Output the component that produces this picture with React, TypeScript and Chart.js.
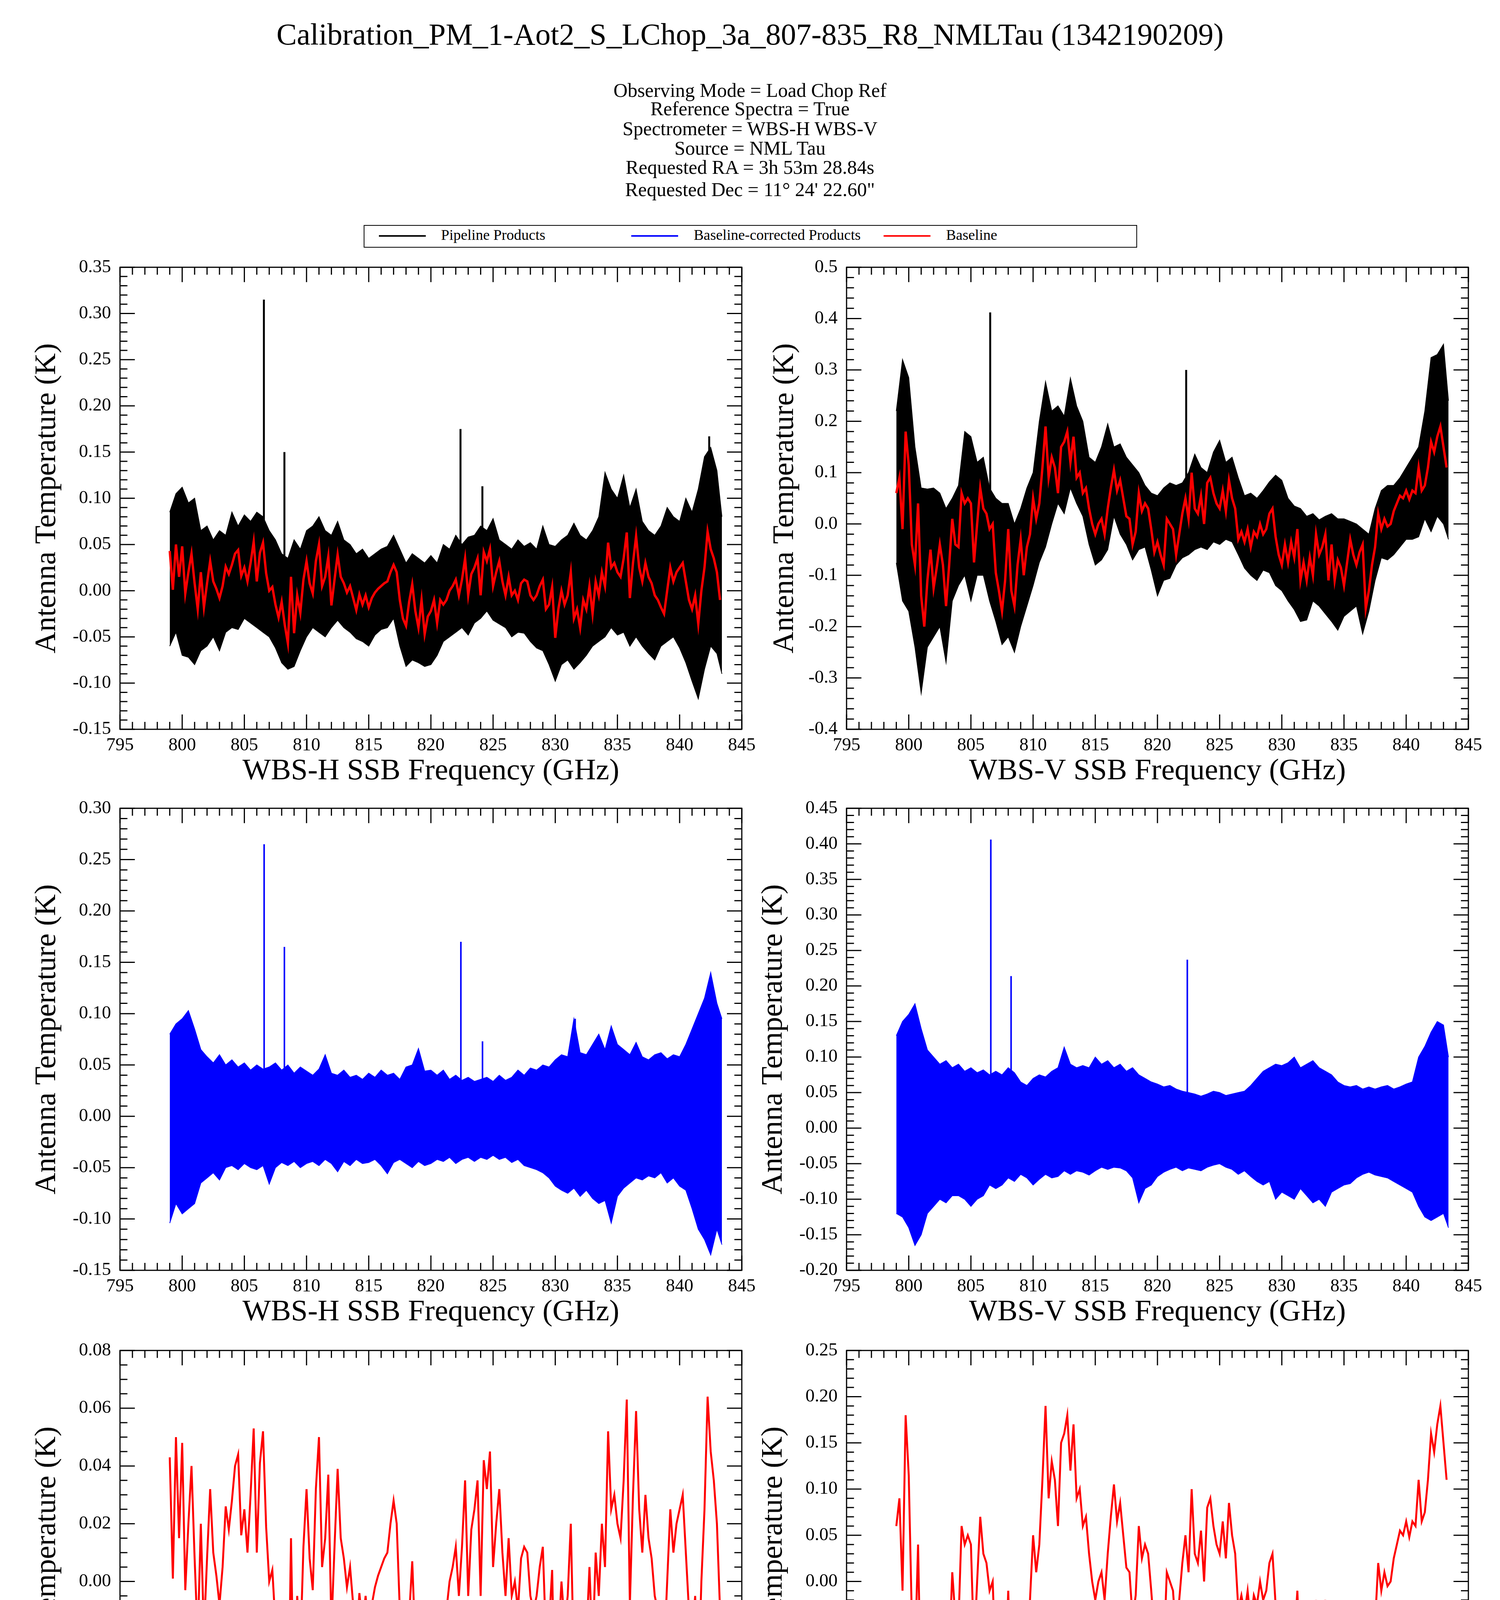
import { useEffect, useRef } from "react"
import { Chart, registerables } from "chart.js"

Chart.register(...registerables)

const SERIF = "'Liberation Serif', 'Times New Roman', Times, serif"
Chart.defaults.font.family = SERIF
Chart.defaults.color = "#000000"

const plotTitle = "Calibration_PM_1-Aot2_S_LChop_3a_807-835_R8_NMLTau (1342190209)"
const headerLines = [
  "Observing Mode = Load Chop Ref",
  "Reference Spectra = True",
  "Spectrometer = WBS-H WBS-V",
  "Source = NML Tau",
  "Requested RA = 3h 53m 28.84s",
  "Requested Dec = 11\u00b0 24' 22.60\"",
]
const legendLabels = ["Pipeline Products", "Baseline-corrected Products", "Baseline"]
const legendColors = ["#000000", "#0000ff", "#ff0000"]

// band envelopes are read every 0.5 GHz from 799.0, closing at the band edge (843.4 GHz)
const bandFreq = [...Array.from({ length: 89 }, (_, i) => 799 + i * 0.5), 843.4]
// baselines are read every 0.25 GHz from 799.0
const baseFreq = Array.from({ length: 178 }, (_, i) => 799 + i * 0.25)

const freqTicks = [795, 800, 805, 810, 815, 820, 825, 830, 835, 840, 845]
const topLeftTicks = [-0.15, -0.1, -0.05, 0, 0.05, 0.1, 0.15, 0.2, 0.25, 0.3, 0.35]
const topRightTicks = [-0.4, -0.3, -0.2, -0.1, 0, 0.1, 0.2, 0.3, 0.4, 0.5]
const midLeftTicks = [-0.15, -0.1, -0.05, 0, 0.05, 0.1, 0.15, 0.2, 0.25, 0.3]
const midRightTicks = [-0.2, -0.15, -0.1, -0.05, 0, 0.05, 0.1, 0.15, 0.2, 0.25, 0.3, 0.35, 0.4, 0.45]
const botLeftTicks = [-0.08, -0.06, -0.04, -0.02, 0, 0.02, 0.04, 0.06, 0.08]
const botRightTicks = [-0.25, -0.2, -0.15, -0.1, -0.05, 0, 0.05, 0.1, 0.15, 0.2, 0.25]

// WBS-H pipeline product, upper / lower edge of the noise band (K)
const hPipeHi = [
  0.085, 0.105, 0.112, 0.095, 0.1, 0.065, 0.07, 0.055, 0.065, 0.06,
  0.085, 0.07, 0.082, 0.075, 0.085, 0.08, 0.065, 0.055, 0.04, 0.035,
  0.055, 0.045, 0.065, 0.07, 0.08, 0.065, 0.06, 0.075, 0.055, 0.05,
  0.04, 0.045, 0.035, 0.04, 0.045, 0.048, 0.06, 0.045, 0.03, 0.04,
  0.035, 0.03, 0.038, 0.03, 0.05, 0.045, 0.06, 0.05, 0.058, 0.06,
  0.07, 0.065, 0.078, 0.055, 0.05, 0.045, 0.055, 0.048, 0.052, 0.045,
  0.07, 0.05, 0.048, 0.055, 0.06, 0.073, 0.06, 0.055, 0.065, 0.08,
  0.128, 0.11, 0.1, 0.125, 0.09, 0.11, 0.075, 0.065, 0.06, 0.07,
  0.09, 0.08, 0.075, 0.1, 0.085, 0.11, 0.145, 0.155, 0.13, 0.08,
]
const hPipeLo = [
  -0.06, -0.045, -0.07, -0.072, -0.08, -0.065, -0.06, -0.05, -0.065, -0.045,
  -0.04, -0.042, -0.03, -0.035, -0.04, -0.045, -0.05, -0.062, -0.078, -0.085,
  -0.082, -0.065, -0.05, -0.04, -0.045, -0.05, -0.04, -0.032, -0.04, -0.045,
  -0.052, -0.055, -0.06, -0.048, -0.042, -0.04, -0.03, -0.06, -0.082, -0.075,
  -0.078, -0.082, -0.08, -0.07, -0.055, -0.05, -0.045, -0.04, -0.048, -0.035,
  -0.03, -0.022, -0.032, -0.036, -0.04, -0.05, -0.045, -0.046, -0.055, -0.062,
  -0.065, -0.08, -0.098, -0.08, -0.075, -0.085, -0.078, -0.07, -0.06, -0.055,
  -0.05, -0.04, -0.048, -0.045, -0.06, -0.05, -0.06, -0.068, -0.075, -0.06,
  -0.055, -0.05, -0.062, -0.078, -0.098, -0.117, -0.085, -0.06, -0.068, -0.09,
]
// WBS-V pipeline product
const vPipeHi = [
  0.22, 0.32, 0.285, 0.15, 0.07, 0.068, 0.07, 0.06, 0.03, 0.05,
  0.075, 0.18, 0.17, 0.12, 0.13, 0.07, 0.05, 0.04, 0.04, 0.0,
  0.03, 0.07, 0.1, 0.2, 0.277, 0.22, 0.23, 0.21, 0.284, 0.23,
  0.2, 0.13, 0.12, 0.15, 0.195, 0.15, 0.156, 0.13, 0.115, 0.1,
  0.075, 0.06, 0.055, 0.07, 0.08, 0.075, 0.08, 0.1, 0.136, 0.11,
  0.1, 0.14, 0.163, 0.12, 0.13, 0.09, 0.055, 0.06, 0.05, 0.065,
  0.082, 0.095, 0.085, 0.05, 0.035, 0.03, 0.015, 0.02, 0.008, 0.015,
  0.02, 0.01, 0.01, 0.005, 0.0, -0.01, -0.02, 0.03, 0.065, 0.075,
  0.075, 0.09, 0.11, 0.13, 0.15, 0.22, 0.324, 0.33, 0.35, 0.24,
]
const vPipeLo = [
  -0.076, -0.15, -0.17, -0.24, -0.33, -0.24, -0.22, -0.2, -0.27, -0.15,
  -0.12, -0.1, -0.15, -0.1, -0.1, -0.15, -0.19, -0.235, -0.22, -0.25,
  -0.2, -0.16, -0.12, -0.075, -0.045, 0.0, 0.04, 0.02, 0.07, 0.04,
  0.015, -0.04, -0.08, -0.07, -0.05, 0.015, -0.02, -0.04, -0.07, -0.05,
  -0.045, -0.09, -0.14, -0.11, -0.106, -0.08, -0.066, -0.06, -0.05, -0.045,
  -0.05, -0.035, -0.04, -0.03, -0.035, -0.06, -0.086, -0.1, -0.11, -0.09,
  -0.095, -0.12, -0.13, -0.15, -0.167, -0.19, -0.187, -0.15, -0.16, -0.175,
  -0.19, -0.207, -0.18, -0.17, -0.16, -0.214, -0.17, -0.11, -0.066, -0.07,
  -0.06, -0.045, -0.03, -0.03, -0.025, 0.01, -0.015, 0.015, 0.0, -0.03,
]
// WBS-H baseline-corrected product
const hCorrHi = [
  0.08, 0.09, 0.095, 0.103, 0.085, 0.065, 0.058, 0.052, 0.06, 0.05,
  0.055, 0.048, 0.052, 0.045, 0.05, 0.046, 0.048, 0.052, 0.045, 0.05,
  0.042, 0.048, 0.044, 0.04, 0.046, 0.06, 0.042, 0.04, 0.045, 0.038,
  0.04, 0.036, 0.042, 0.038, 0.045, 0.04, 0.042, 0.036, 0.048, 0.05,
  0.066, 0.044, 0.045, 0.04, 0.045, 0.036, 0.04, 0.035, 0.038, 0.034,
  0.036, 0.038, 0.034, 0.04, 0.035, 0.038, 0.045, 0.04, 0.047, 0.045,
  0.05, 0.048, 0.055, 0.06, 0.058, 0.095, 0.062, 0.06, 0.07, 0.08,
  0.065, 0.088, 0.07, 0.065, 0.06, 0.072, 0.058, 0.055, 0.06, 0.062,
  0.056, 0.06, 0.058, 0.07, 0.085, 0.1, 0.115, 0.14, 0.11, 0.095,
]
const hCorrLo = [
  -0.104, -0.085, -0.095, -0.09, -0.085, -0.065, -0.06, -0.055, -0.062, -0.05,
  -0.048, -0.052, -0.046, -0.05, -0.052, -0.048, -0.066, -0.05, -0.045, -0.048,
  -0.044, -0.05, -0.046, -0.044, -0.048, -0.042, -0.046, -0.054, -0.044, -0.048,
  -0.042, -0.046, -0.045, -0.042, -0.048, -0.056, -0.045, -0.042, -0.046, -0.05,
  -0.044, -0.048, -0.046, -0.042, -0.044, -0.04, -0.046, -0.042, -0.04, -0.044,
  -0.04, -0.042, -0.038, -0.042, -0.04, -0.045, -0.042, -0.048, -0.05, -0.052,
  -0.055, -0.06, -0.068, -0.072, -0.075, -0.07, -0.078, -0.072, -0.08, -0.085,
  -0.082, -0.104, -0.078, -0.07, -0.065, -0.06, -0.062, -0.058, -0.06, -0.055,
  -0.065, -0.06, -0.068, -0.072, -0.09, -0.11, -0.12, -0.135, -0.11, -0.125,
]
// WBS-V baseline-corrected product
const vCorrHi = [
  0.13, 0.15, 0.16, 0.175, 0.14, 0.11, 0.1, 0.09, 0.095, 0.085,
  0.09, 0.08, 0.085, 0.078, 0.082, 0.075, 0.08, 0.075, 0.085, 0.078,
  0.065, 0.06, 0.07, 0.075, 0.072, 0.08, 0.085, 0.114, 0.09, 0.085,
  0.088, 0.085, 0.1, 0.09, 0.095, 0.085, 0.09, 0.08, 0.085, 0.075,
  0.07, 0.065, 0.062, 0.058, 0.06, 0.055, 0.052, 0.05, 0.048, 0.045,
  0.048, 0.052, 0.05, 0.046, 0.048, 0.05, 0.052, 0.06, 0.07, 0.08,
  0.085, 0.09, 0.088, 0.092, 0.1, 0.085, 0.09, 0.095, 0.085, 0.08,
  0.075, 0.065, 0.06, 0.058, 0.06, 0.055, 0.058, 0.055, 0.058, 0.06,
  0.055, 0.058, 0.062, 0.065, 0.1, 0.115, 0.135, 0.15, 0.145, 0.1,
]
const vCorrLo = [
  -0.12, -0.125, -0.14, -0.165, -0.15, -0.12, -0.11, -0.1, -0.105, -0.095,
  -0.095, -0.1, -0.11, -0.1, -0.095, -0.08, -0.085, -0.08, -0.07, -0.075,
  -0.065, -0.07, -0.08, -0.072, -0.065, -0.07, -0.068, -0.06, -0.065, -0.06,
  -0.062, -0.066, -0.06, -0.055, -0.058, -0.055, -0.056, -0.06, -0.07, -0.105,
  -0.085, -0.08, -0.068, -0.062, -0.058, -0.055, -0.06, -0.056, -0.058, -0.06,
  -0.055, -0.052, -0.05, -0.055, -0.058, -0.065, -0.06, -0.068, -0.075, -0.08,
  -0.075, -0.1, -0.09, -0.095, -0.1, -0.085, -0.095, -0.105, -0.1, -0.11,
  -0.09, -0.085, -0.08, -0.078, -0.07, -0.065, -0.062, -0.066, -0.068, -0.07,
  -0.075, -0.08, -0.085, -0.09, -0.11, -0.125, -0.13, -0.125, -0.12, -0.14,
]

// fitted baselines (K), one row per 2 GHz
const hBaseline = [
  0.043, 0.001, 0.05, 0.015, 0.048, -0.003, 0.02, 0.04,
  0.008, -0.02, 0.02, -0.018, 0.008, 0.032, 0.01, 0.002,
  -0.008, 0.005, 0.026, 0.018, 0.028, 0.04, 0.044, 0.016,
  0.025, 0.01, 0.03, 0.053, 0.01, 0.041, 0.052, 0.019,
  0.0, 0.004, -0.015, -0.029, -0.012, -0.037, -0.057, 0.015,
  -0.046, -0.005, -0.024, 0.012, 0.032, 0.008, -0.003, 0.032,
  0.05, 0.005, 0.015, 0.037, -0.016, 0.012, 0.039, 0.015,
  0.008, -0.002, 0.005, -0.008, -0.021, -0.004, -0.015, -0.005,
  -0.018, -0.008, -0.002, 0.002, 0.005, 0.008, 0.01, 0.02,
  0.028, 0.02, -0.01, -0.03, -0.038, -0.012, 0.007, -0.022,
  -0.04, -0.01, -0.047, -0.028, -0.022, -0.01, -0.035, -0.01,
  -0.015, -0.01, 0.0, 0.005, 0.012, -0.005, 0.012, 0.035,
  -0.005, 0.018, 0.025, 0.035, -0.005, 0.042, 0.032, 0.045,
  0.005, 0.02, 0.032, 0.01, -0.005, 0.015, -0.005, 0.0,
  -0.01, 0.008, 0.012, 0.01, -0.005, -0.01, -0.005, 0.005,
  0.012, -0.02, -0.015, 0.004, -0.051, -0.02, 0.0, -0.015,
  -0.005, 0.02, -0.03, -0.02, -0.04, -0.01, -0.02, 0.005,
  -0.025, 0.01, -0.005, 0.02, 0.005, 0.052, 0.025, 0.03,
  0.02, 0.015, 0.035, 0.063, -0.008, 0.03, 0.059, 0.025,
  0.01, 0.03, 0.015, 0.008, -0.005, -0.01, -0.018, -0.025,
  0.0, 0.025, 0.01, 0.02, 0.025, 0.03, 0.01, -0.01,
  -0.02, -0.005, -0.036, 0.0, 0.025, 0.064, 0.045, 0.035,
  0.02, -0.01,
]
const vBaseline = [
  0.06, 0.09, -0.01, 0.18, 0.115, -0.04, -0.08, 0.04,
  -0.14, -0.2, -0.11, -0.05, -0.125, -0.085, -0.04, -0.08,
  -0.16, -0.08, 0.01, -0.04, -0.045, 0.06, 0.04, 0.05,
  0.04, -0.075, 0.0, 0.07, 0.03, 0.02, -0.01, 0.0,
  -0.095, -0.13, -0.17, -0.11, -0.01, -0.13, -0.16, -0.08,
  -0.03, -0.1, -0.045, -0.02, 0.05, 0.01, 0.04, 0.11,
  0.19, 0.09, 0.13, 0.11, 0.06, 0.15, 0.16, 0.18,
  0.12, 0.17, 0.09, 0.1, 0.06, 0.07, 0.03, 0.0,
  -0.02, 0.0, 0.01, -0.02, 0.03, 0.07, 0.105, 0.065,
  0.085, 0.05, 0.015, 0.01, -0.04, -0.015, 0.06, 0.025,
  0.04, 0.03, -0.01, -0.055, -0.035, -0.06, -0.08, 0.01,
  0.0, -0.01, -0.06, -0.02, 0.02, 0.05, 0.01, 0.1,
  0.03, 0.02, 0.055, 0.0, 0.08, 0.09, 0.06, 0.04,
  0.03, 0.065, 0.025, 0.085, 0.05, 0.03, -0.03, -0.015,
  -0.035, -0.01, -0.045, -0.015, -0.025, 0.0, -0.02, -0.01,
  0.02, 0.03, -0.025, -0.06, -0.08, -0.04, -0.075, -0.035,
  -0.065, -0.01, -0.11, -0.075, -0.11, -0.065, -0.1, -0.02,
  -0.06, -0.045, -0.02, -0.11, -0.04, -0.11, -0.07, -0.085,
  -0.12, -0.075, -0.03, -0.06, -0.08, -0.055, -0.04, -0.165,
  -0.13, -0.08, -0.045, 0.02, -0.01, 0.01, -0.005, 0.0,
  0.025, 0.04, 0.055, 0.05, 0.065, 0.048, 0.065, 0.06,
  0.11, 0.065, 0.075, 0.11, 0.16, 0.14, 0.17, 0.19,
  0.15, 0.11,
]

// narrow lines standing above the noise
const hPipeSpikeFreq = [806.57, 808.22, 822.38, 824.14, 842.38]
const hPipeSpikeTop = [0.315, 0.15, 0.175, 0.113, 0.167]
const vPipeSpikeFreq = [806.55, 822.31]
const vPipeSpikeTop = [0.412, 0.3]
const hCorrSpikeFreq = [806.59, 808.22, 822.41, 824.15, 831.6]
const hCorrSpikeTop = [0.265, 0.165, 0.17, 0.073, 0.095]
const vCorrSpikeFreq = [806.6, 808.23, 822.4]
const vCorrSpikeTop = [0.406, 0.214, 0.237]

const BLACK = "#000000"
const BLUE = "#0000ff"
const RED = "#ff0000"

const PLOT_W = 1592
const PLOT_H = 1194
const X_AXIS_H = 154
const PAD = { left: 10, top: 40, right: 60, bottom: 10 }
const TICK_FONT = 47
const TITLE_FONT = 77

// chart.js paints higher "order" first, so the band sits under spikes and baseline
function bandSets(hi: number[], lo: number[], color: string) {
  return [
    {
      data: hi.map((v, i) => ({ x: bandFreq[i], y: v })),
      borderColor: color,
      backgroundColor: color,
      borderWidth: 2,
      pointRadius: 0,
      fill: false,
      order: 3,
    },
    {
      data: lo.map((v, i) => ({ x: bandFreq[i], y: v })),
      borderColor: color,
      backgroundColor: color,
      borderWidth: 2,
      pointRadius: 0,
      fill: "-1",
      order: 2,
    },
  ]
}

function spikeSet(freq: number[], top: number[], color: string, width: number) {
  const data: { x: number; y: number | null }[] = []
  freq.forEach((f, i) => {
    data.push({ x: f, y: 0 }, { x: f, y: top[i] }, { x: f, y: null })
  })
  return { data, borderColor: color, borderWidth: width, pointRadius: 0, fill: false, spanGaps: false, order: 1 }
}

function baselineSet(values: number[], width: number) {
  return {
    data: values.map((v, i) => ({ x: baseFreq[i], y: v })),
    borderColor: RED,
    borderWidth: width,
    pointRadius: 0,
    fill: false,
    order: 0,
  }
}

// box frame with inward major/minor ticks on all four sides
const frameTicks = {
  id: "frameTicks",
  afterDatasetsDraw(chart: any, _args: any, opts: any) {
    const { ctx, chartArea } = chart
    const { left, right, top, bottom } = chartArea
    const xs = chart.scales.x
    const ys = chart.scales.y
    ctx.save()
    ctx.strokeStyle = BLACK
    ctx.lineWidth = 3
    ctx.beginPath()
    for (let f = 795; f <= 845; f += 1) {
      const len = f % 5 === 0 ? 38 : 19
      const px = xs.getPixelForValue(f)
      ctx.moveTo(px, bottom)
      ctx.lineTo(px, bottom - len)
      ctx.moveTo(px, top)
      ctx.lineTo(px, top + len)
    }
    const n = Math.round((ys.max - ys.min) / opts.minorStep)
    for (let i = 0; i <= n; i++) {
      const v = ys.min + i * opts.minorStep
      const r = v / opts.majorStep
      const len = Math.abs(r - Math.round(r)) < 1e-6 ? 38 : 19
      const py = ys.getPixelForValue(v)
      ctx.moveTo(left, py)
      ctx.lineTo(left + len, py)
      ctx.moveTo(right, py)
      ctx.lineTo(right - len, py)
    }
    ctx.stroke()
    ctx.strokeRect(left, top, right - left, bottom - top)
    ctx.restore()
  },
}

interface PanelProps {
  left: number
  top: number
  yTicks: number[]
  minorStep: number
  decimals: number
  titleGap: number
  xTitle: string
  datasets: any[]
}

function SpectrumPanel({ left, top, yTicks, minorStep, decimals, titleGap, xTitle, datasets }: PanelProps) {
  const canvasRef = useRef<HTMLCanvasElement | null>(null)
  const yAxisWidth = titleGap + (TITLE_FONT * 1.2) / 2
  const width = Math.round(PAD.left + yAxisWidth + PLOT_W + PAD.right)
  const height = PAD.top + PLOT_H + X_AXIS_H + PAD.bottom
  const canvasLeft = left - yAxisWidth - PAD.left

  useEffect(() => {
    if (!canvasRef.current) return
    const majorStep = yTicks[1] - yTicks[0]
    const chart = new Chart(canvasRef.current, {
      type: "line",
      data: { datasets },
      options: {
        responsive: false,
        animation: false,
        events: [],
        layout: { padding: PAD },
        plugins: {
          legend: { display: false },
          tooltip: { enabled: false },
          frameTicks: { minorStep, majorStep },
        } as any,
        scales: {
          x: {
            type: "linear",
            min: 795,
            max: 845,
            grid: { display: false, drawTicks: false },
            border: { display: false },
            afterBuildTicks: (s: any) => {
              s.ticks = freqTicks.map((v) => ({ value: v }))
            },
            afterFit: (s: any) => {
              s.height = X_AXIS_H
            },
            ticks: {
              font: { size: TICK_FONT },
              padding: 13,
              maxRotation: 0,
              minRotation: 0,
              autoSkip: false,
              callback: (v: any) => String(v),
            },
            title: { display: true, text: xTitle, font: { size: TITLE_FONT }, padding: 0 },
          },
          y: {
            type: "linear",
            min: yTicks[0],
            max: yTicks[yTicks.length - 1],
            grid: { display: false, drawTicks: false },
            border: { display: false },
            afterBuildTicks: (s: any) => {
              s.ticks = yTicks.map((v) => ({ value: v }))
            },
            afterFit: (s: any) => {
              s.width = yAxisWidth
            },
            ticks: {
              font: { size: TICK_FONT },
              padding: 23,
              autoSkip: false,
              callback: (v: any) => {
                const n = Math.abs(Number(v)) < 1e-9 ? 0 : Number(v)
                return n.toFixed(decimals)
              },
            },
            title: { display: true, text: "Antenna Temperature (K)", font: { size: TITLE_FONT }, padding: 0 },
          },
        },
      },
      plugins: [frameTicks],
    })
    return () => chart.destroy()
  }, [])

  return (
    <div style={{ position: "absolute", left: canvasLeft, top: top - PAD.top, width, height }}>
      <canvas ref={canvasRef} width={width} height={height} style={{ display: "block", width, height }} />
    </div>
  )
}

const COL_LEFT = [307, 2167]
const ROW_TOP = [673, 2058, 3446]
const headerTops = [206, 253, 304, 354, 403, 460]
const legendLineX = [970, 1616, 2262]
const legendTextX = [1129, 1776, 2422]

export default function App() {
  const panels: PanelProps[] = [
    {
      left: COL_LEFT[0], top: ROW_TOP[0], yTicks: topLeftTicks, minorStep: 0.01, decimals: 2, titleGap: 186,
      xTitle: "WBS-H SSB Frequency (GHz)",
      datasets: [...bandSets(hPipeHi, hPipeLo, BLACK), spikeSet(hPipeSpikeFreq, hPipeSpikeTop, BLACK, 5), baselineSet(hBaseline, 6)],
    },
    {
      left: COL_LEFT[1], top: ROW_TOP[0], yTicks: topRightTicks, minorStep: 0.02, decimals: 1, titleGap: 157,
      xTitle: "WBS-V SSB Frequency (GHz)",
      datasets: [...bandSets(vPipeHi, vPipeLo, BLACK), spikeSet(vPipeSpikeFreq, vPipeSpikeTop, BLACK, 5), baselineSet(vBaseline, 6)],
    },
    {
      left: COL_LEFT[0], top: ROW_TOP[1], yTicks: midLeftTicks, minorStep: 0.01, decimals: 2, titleGap: 186,
      xTitle: "WBS-H SSB Frequency (GHz)",
      datasets: [...bandSets(hCorrHi, hCorrLo, BLUE), spikeSet(hCorrSpikeFreq, hCorrSpikeTop, BLUE, 4)],
    },
    {
      left: COL_LEFT[1], top: ROW_TOP[1], yTicks: midRightTicks, minorStep: 0.01, decimals: 2, titleGap: 186,
      xTitle: "WBS-V SSB Frequency (GHz)",
      datasets: [...bandSets(vCorrHi, vCorrLo, BLUE), spikeSet(vCorrSpikeFreq, vCorrSpikeTop, BLUE, 4)],
    },
    {
      left: COL_LEFT[0], top: ROW_TOP[2], yTicks: botLeftTicks, minorStep: 0.005, decimals: 2, titleGap: 186,
      xTitle: "WBS-H SSB Frequency (GHz)",
      datasets: [baselineSet(hBaseline, 5)],
    },
    {
      left: COL_LEFT[1], top: ROW_TOP[2], yTicks: botRightTicks, minorStep: 0.01, decimals: 2, titleGap: 186,
      xTitle: "WBS-V SSB Frequency (GHz)",
      datasets: [baselineSet(vBaseline, 5)],
    },
  ]

  return (
    <div
      style={{
        position: "absolute",
        left: 0,
        top: 0,
        width: 3840,
        height: 4872,
        background: "#ffffff",
        fontFamily: SERIF,
        color: "#000000",
        overflow: "hidden",
      }}
    >
      <div style={{ position: "absolute", left: 0, top: 49, width: 3840, fontSize: 78, lineHeight: "78px", textAlign: "center", whiteSpace: "nowrap" }}>
        {plotTitle}
      </div>
      {headerLines.map((t, i) => (
        <div
          key={t}
          style={{ position: "absolute", left: 0, top: headerTops[i], width: 3840, fontSize: 50, lineHeight: "50px", textAlign: "center", whiteSpace: "nowrap" }}
        >
          {t}
        </div>
      ))}
      <div style={{ position: "absolute", left: 931, top: 576, width: 1980, height: 58, border: "2px solid #000", boxSizing: "border-box" }} />
      {legendLabels.map((label, i) => (
        <div key={label}>
          <div style={{ position: "absolute", left: legendLineX[i], top: 602, width: 120, height: 4, background: legendColors[i] }} />
          <div style={{ position: "absolute", left: legendTextX[i], top: 582, fontSize: 38, lineHeight: "38px", whiteSpace: "nowrap" }}>
            {label}
          </div>
        </div>
      ))}
      {panels.map((p, i) => (
        <SpectrumPanel key={i} {...p} />
      ))}
    </div>
  )
}
